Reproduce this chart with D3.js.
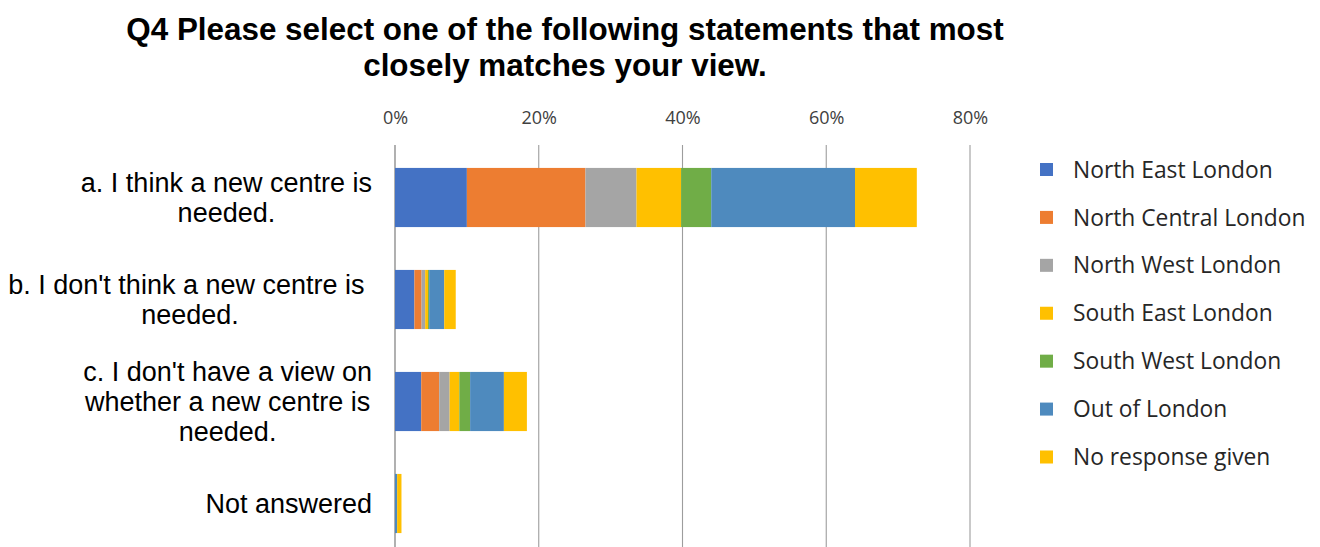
<!DOCTYPE html>
<html>
<head>
<meta charset="utf-8">
<script src="https://cdn.jsdelivr.net/npm/d3@7"></script>
<style>
  html, body { margin: 0; padding: 0; background: #ffffff; }
  svg { display: block; }
</style>
</head>
<body>
<svg id="chart" width="1320" height="547"></svg>
<script>
// Survey responses to Q4, stacked by respondent area (percent of all responses)
const categories = [
  "a. I think a new centre is needed.",
  "b. I don't think a new centre is needed.",
  "c. I don't have a view on whether a new centre is needed.",
  "Not answered"
];
const categoryLines = [
  ["a. I think a new centre is", "needed."],
  ["b. I don't think a new centre is ", "needed."],
  ["c. I don't have a view on", "whether a new centre is", "needed."],
  ["Not answered"]
];
const seriesNames = [
  "North East London",
  "North Central London",
  "North West London",
  "South East London",
  "South West London",
  "Out of London",
  "No response given"
];
const seriesColors = ["#4472C4", "#ED7D31", "#A5A5A5", "#FFC000", "#70AD47", "#4E8ABE", "#FFC000"];

// one array per area, values in category order (a, b, c, Not answered)
const northEast    = [10.0, 2.7, 3.65, 0.0];
const northCentral = [16.5, 1.0, 2.5, 0.0];
const northWest    = [7.1, 0.5, 1.45, 0.0];
const southEast    = [6.2, 0.4, 1.35, 0.0];
const southWest    = [4.2, 0.15, 1.5, 0.0];
const outOfLondon  = [20.0, 2.1, 4.7, 0.3];
const noResponse   = [8.6, 1.6, 3.2, 0.6];

const tickValues = [0, 20, 40, 60, 80];
const titleLines = [
  "Q4 Please select one of the following statements that most",
  "closely matches your view."
];

const seriesValues = [northEast, northCentral, northWest, southEast, southWest, outOfLondon, noResponse];
const table = categories.map((c, i) => {
  const row = { category: c };
  seriesNames.forEach((s, j) => { row[s] = seriesValues[j][i]; });
  return row;
});

const svg = d3.select("#chart");

const x = d3.scaleLinear().domain([0, 80]).range([395, 970]);
const y = d3.scaleBand()
  .domain(categories)
  .range([146.5, 554.5])
  .paddingInner(0.42)
  .paddingOuter(0.21);

// title
svg.append("g")
  .selectAll("text")
  .data(titleLines)
  .join("text")
  .attr("x", 565)
  .attr("y", (d, i) => 40 + i * 36)
  .attr("text-anchor", "middle")
  .attr("font-family", "'Liberation Sans', Arial, sans-serif")
  .attr("font-weight", "bold")
  .attr("font-size", 31.4)
  .attr("fill", "#000")
  .text(d => d);

// vertical gridlines
svg.append("g")
  .selectAll("line")
  .data(tickValues)
  .join("line")
  .attr("x1", d => x(d)).attr("x2", d => x(d))
  .attr("y1", 145).attr("y2", 547)
  .attr("stroke", "#9d9d9d")
  .attr("stroke-width", d => d === 0 ? 1.6 : 1.1);

// top axis tick labels
const xAxis = d3.axisTop(x)
  .tickValues(tickValues)
  .tickFormat(d => d + "%")
  .tickSize(0)
  .tickPadding(0);
const axisG = svg.append("g")
  .attr("transform", "translate(0,124)")
  .call(xAxis);
axisG.select(".domain").remove();
axisG.selectAll("text")
  .attr("font-family", "'Open Sans', sans-serif")
  .attr("font-size", 18)
  .attr("fill", "#404040")
  .attr("dy", 0);

// stacked bars
const stack = d3.stack().keys(seriesNames);
const layers = stack(table);
svg.append("g")
  .selectAll("g")
  .data(layers)
  .join("g")
  .attr("fill", (d, i) => seriesColors[i])
  .selectAll("rect")
  .data(d => d)
  .join("rect")
  .attr("x", d => x(d[0]))
  .attr("width", d => Math.max(0, x(d[1]) - x(d[0])))
  .attr("y", d => y(d.data.category))
  .attr("height", y.bandwidth());

// category labels: lines centred on each other, block right-aligned to the axis
const labelRight = 372;
const lineH = 30;
const labelSize = 27;
const labelG = svg.append("g");
categories.forEach((c, i) => {
  const lines = categoryLines[i];
  const g = labelG.append("g");
  const texts = g.selectAll("text")
    .data(lines)
    .join("text")
    .attr("font-family", "'Liberation Sans', Arial, sans-serif")
    .attr("font-size", labelSize)
    .attr("fill", "#000")
    .attr("text-anchor", "middle")
    .style("white-space", "pre")
    .text(d => d);
  let maxW = 0;
  texts.each(function () { maxW = Math.max(maxW, this.getComputedTextLength()); });
  const cx = labelRight - maxW / 2;
  const cy = y(c) + y.bandwidth() / 2;
  const capHalf = labelSize * 0.716 / 2;
  texts
    .attr("x", cx)
    .attr("y", (d, k) => cy + (k - (lines.length - 1) / 2) * lineH + capHalf);
});

// legend
const legendSize = 22.8;
const legend = svg.append("g");
const legendRow = d3.scalePoint().domain(seriesNames).range([169.5, 457]);
const item = legend.selectAll("g")
  .data(seriesNames)
  .join("g")
  .attr("transform", d => `translate(1040,${legendRow(d)})`);
item.append("rect")
  .attr("x", 0).attr("y", -6.5)
  .attr("width", 13).attr("height", 13)
  .attr("fill", (d, i) => seriesColors[i]);
item.append("text")
  .attr("x", 33)
  .attr("y", legendSize * 0.714 / 2)
  .attr("font-family", "'Open Sans', sans-serif")
  .attr("font-size", legendSize)
  .attr("fill", "#262626")
  .text(d => d);
</script>
</body>
</html>
